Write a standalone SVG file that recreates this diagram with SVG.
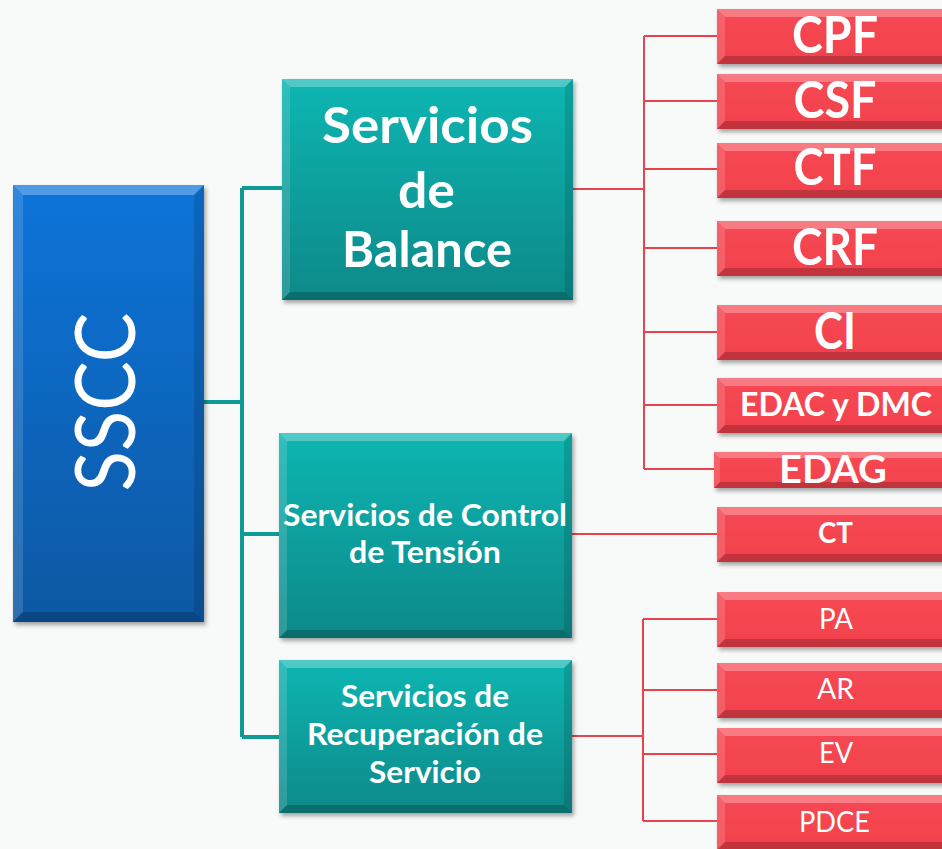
<svg xmlns="http://www.w3.org/2000/svg" xmlns:xlink="http://www.w3.org/1999/xlink" width="942" height="849" viewBox="0 0 942 849">
<style>
.hi{fill:#fff;opacity:.28}
.lo{fill:#fff;opacity:.14}
.dk{fill:#000;opacity:.2}
.dr{fill:#000;opacity:.12}
.t{font-family:Lato,"Open Sans","Liberation Sans",sans-serif;fill:#fff;text-anchor:middle}
.b{font-weight:bold}
.tl{fill:none;stroke:#0f9a96;stroke-width:4}
.rl{fill:none;stroke:#e8434c;stroke-width:2}
</style>
<defs>
<linearGradient id="gBlue" x1="0" y1="0" x2="0" y2="1"><stop offset="0" stop-color="#0774d9"/><stop offset="1" stop-color="#0a58a3"/></linearGradient>
<linearGradient id="gTeal" x1="0" y1="0" x2="0" y2="1"><stop offset="0" stop-color="#08b6b2"/><stop offset="1" stop-color="#078989"/></linearGradient>
<linearGradient id="gRed" x1="0" y1="0" x2="0" y2="1"><stop offset="0" stop-color="#f64853"/><stop offset="1" stop-color="#f2424c"/></linearGradient>
<filter id="sh" x="-10%" y="-20%" width="130%" height="150%"><feDropShadow dx="2" dy="3" stdDeviation="2" flood-color="#000" flood-opacity="0.35"/></filter>
<g id="redbox">
<rect x="0" y="0" width="240" height="55" fill="url(#gRed)" filter="url(#sh)"/>
<polygon class="hi" points="0,0 240,0 232,8 8,8"/>
<polygon class="lo" points="0,0 8,8 8,47 0,55"/>
<polygon class="dk" points="0,55 8,47 232,47 240,55"/>
</g>
<g id="redboxS">
<rect x="0" y="0" width="240" height="36" fill="url(#gRed)" filter="url(#sh)"/>
<polygon class="hi" points="0,0 240,0 234,6 6,6"/>
<polygon class="lo" points="0,0 6,6 6,30 0,36"/>
<polygon class="dk" points="0,36 6,30 234,30 240,36"/>
</g>
</defs>
<rect x="0" y="0" width="942" height="849" fill="#f8f9f9"/>

<g id="connectors">
<path class="tl" d="M204,402 H242 M242,188 V737 M242,188 H282 M242,534 H279 M242,737 H279"/>
<path class="rl" d="M573,189 H644 M644,36 V469 M644,36 H717 M644,101 H717 M644,169 H717 M644,248 H717 M644,332 H717 M644,405 H717 M644,469 H714"/>
<path class="rl" d="M572,534 H717"/>
<path class="rl" d="M572,736 H643 M643,619 V821 M643,619 H717 M643,690 H717 M643,754 H717 M643,821 H717"/>
</g>

<g id="sscc">
<rect x="13" y="185" width="191" height="437" fill="url(#gBlue)" filter="url(#sh)"/>
<polygon class="hi" points="13,185 204,185 194,195 23,195"/>
<polygon class="lo" points="13,185 23,195 23,612 13,622"/>
<polygon class="dk" points="13,622 23,612 194,612 204,622"/>
<polygon class="dr" points="204,185 204,622 194,612 194,195"/>
<text class="t" font-size="84" transform="translate(135,402) rotate(-90)" x="0" y="0" textLength="179" lengthAdjust="spacingAndGlyphs">SSCC</text>
</g>

<g id="balance">
<rect x="282" y="79" width="291" height="221" fill="url(#gTeal)" filter="url(#sh)"/>
<polygon class="hi" points="282,79 573,79 565,87 290,87"/>
<polygon class="lo" points="282,79 290,87 290,292 282,300"/>
<polygon class="dk" points="282,300 290,292 565,292 573,300"/>
<polygon class="dr" points="573,79 573,300 565,292 565,87"/>
<text class="t b" font-size="49" x="427.5" y="143" textLength="211" lengthAdjust="spacingAndGlyphs">Servicios</text>
<text class="t b" font-size="49" x="426.5" y="208" textLength="57" lengthAdjust="spacingAndGlyphs">de</text>
<text class="t b" font-size="49" x="427" y="267" textLength="170" lengthAdjust="spacingAndGlyphs">Balance</text>
</g>

<g id="control">
<rect x="279" y="433" width="293" height="205" fill="url(#gTeal)" filter="url(#sh)"/>
<polygon class="hi" points="279,433 572,433 564,441 287,441"/>
<polygon class="lo" points="279,433 287,441 287,630 279,638"/>
<polygon class="dk" points="279,638 287,630 564,630 572,638"/>
<polygon class="dr" points="572,433 572,638 564,630 564,441"/>
<text class="t b" font-size="30.5" x="425" y="526" textLength="284" lengthAdjust="spacingAndGlyphs">Servicios de Control</text>
<text class="t b" font-size="30.5" x="425" y="563" textLength="152" lengthAdjust="spacingAndGlyphs">de Tensión</text>
</g>

<g id="recuperacion">
<rect x="279" y="660" width="293" height="153" fill="url(#gTeal)" filter="url(#sh)"/>
<polygon class="hi" points="279,660 572,660 564,668 287,668"/>
<polygon class="lo" points="279,660 287,668 287,805 279,813"/>
<polygon class="dk" points="279,813 287,805 564,805 572,813"/>
<polygon class="dr" points="572,660 572,813 564,805 564,668"/>
<text class="t b" font-size="31" x="425" y="707" textLength="168" lengthAdjust="spacingAndGlyphs">Servicios de</text>
<text class="t b" font-size="31" x="425" y="745" textLength="236" lengthAdjust="spacingAndGlyphs">Recuperación de</text>
<text class="t b" font-size="31" x="425" y="783" textLength="112" lengthAdjust="spacingAndGlyphs">Servicio</text>
</g>

<g id="cpf"><use xlink:href="#redbox" x="717" y="9"/><text class="t b" font-size="51" x="835" y="53" textLength="86" lengthAdjust="spacingAndGlyphs">CPF</text></g>
<g id="csf"><use xlink:href="#redbox" x="717" y="74"/><text class="t b" font-size="51" x="835" y="118" textLength="83" lengthAdjust="spacingAndGlyphs">CSF</text></g>
<g id="ctf"><use xlink:href="#redbox" x="717" y="143"/><text class="t b" font-size="51" x="835" y="185" textLength="83" lengthAdjust="spacingAndGlyphs">CTF</text></g>
<g id="crf"><use xlink:href="#redbox" x="717" y="221"/><text class="t b" font-size="51" x="835" y="265" textLength="86" lengthAdjust="spacingAndGlyphs">CRF</text></g>
<g id="ci"><use xlink:href="#redbox" x="717" y="305"/><text class="t b" font-size="51" x="835" y="349" textLength="42" lengthAdjust="spacingAndGlyphs">CI</text></g>
<g id="edac"><use xlink:href="#redbox" x="717" y="378"/><text class="t b" font-size="32" x="836" y="416" textLength="192" lengthAdjust="spacingAndGlyphs">EDAC y DMC</text></g>
<g id="edag"><use xlink:href="#redboxS" x="714" y="452"/><text class="t b" font-size="39" x="833" y="483" textLength="108" lengthAdjust="spacingAndGlyphs">EDAG</text></g>
<g id="ct"><use xlink:href="#redbox" x="717" y="507"/><text class="t b" font-size="28" x="835.5" y="543" textLength="35" lengthAdjust="spacingAndGlyphs">CT</text></g>
<g id="pa"><use xlink:href="#redbox" x="717" y="592"/><text class="t" font-size="29" x="836" y="629" textLength="34" lengthAdjust="spacingAndGlyphs">PA</text></g>
<g id="ar"><use xlink:href="#redbox" x="717" y="663"/><text class="t" font-size="29" x="835.5" y="699" textLength="37" lengthAdjust="spacingAndGlyphs">AR</text></g>
<g id="ev"><use xlink:href="#redbox" x="717" y="728"/><text class="t" font-size="29" x="836" y="763" textLength="34" lengthAdjust="spacingAndGlyphs">EV</text></g>
<g id="pdce"><use xlink:href="#redbox" x="717" y="795"/><text class="t" font-size="29" x="834.5" y="832" textLength="71" lengthAdjust="spacingAndGlyphs">PDCE</text></g>
</svg>
